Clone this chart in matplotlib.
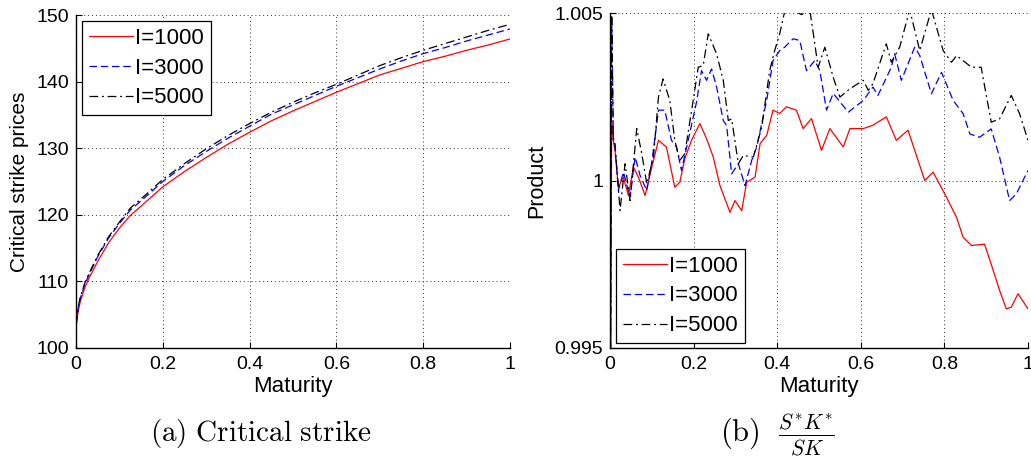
import matplotlib
matplotlib.use("Agg")
import matplotlib.pyplot as plt
from matplotlib.ticker import FixedLocator, FixedFormatter

plt.rcParams['font.family'] = ['Liberation Sans', 'DejaVu Sans']
plt.rcParams['mathtext.fontset'] = 'cm'

# ---------------- data: panel (a) critical strike ----------------
t_a = [0, 0.005, 0.01, 0.02, 0.03, 0.05, 0.075, 0.1, 0.125, 0.15, 0.2, 0.25, 0.3,
       0.35, 0.4, 0.45, 0.5, 0.55, 0.6, 0.65, 0.7, 0.75, 0.8, 0.85, 0.9, 0.95, 1.0]
k_1000 = [103.0, 105.5, 107.0, 109.0, 110.5, 113.0, 115.8, 118.0, 119.9, 121.3, 124.2,
          126.5, 128.6, 130.6, 132.4, 134.1, 135.6, 137.0, 138.4, 139.7, 141.0, 142.0,
          143.0, 143.8, 144.7, 145.5, 146.4]
k_3000 = [103.5, 106.0, 107.5, 109.5, 111.0, 113.7, 116.5, 118.7, 120.7, 122.1, 125.0,
          127.4, 129.5, 131.5, 133.3, 135.1, 136.5, 137.9, 139.3, 140.6, 141.9, 143.1,
          144.2, 145.1, 146.1, 147.0, 147.9]
k_5000 = [103.6, 106.1, 107.7, 109.7, 111.2, 113.9, 116.7, 118.9, 121.0, 122.4, 125.3,
          127.7, 129.9, 131.9, 133.7, 135.4, 136.9, 138.3, 139.6, 141.0, 142.4, 143.6,
          144.7, 145.7, 146.7, 147.7, 148.6]

# ---------------- data: panel (b) product S*K*/SK ----------------
t_r = [0, 0.004, 0.008, 0.012, 0.02, 0.032, 0.044, 0.056, 0.068, 0.084, 0.1, 0.116, 0.135,
       0.155, 0.167, 0.179, 0.195, 0.215, 0.231, 0.247, 0.263, 0.287, 0.299, 0.315, 0.327,
       0.347, 0.359, 0.375, 0.39, 0.406, 0.422, 0.446, 0.462, 0.482, 0.506, 0.526, 0.558,
       0.574, 0.606, 0.629, 0.661, 0.685, 0.713, 0.753, 0.773, 0.805, 0.829, 0.845, 0.865,
       0.896, 0.912, 0.932, 0.948, 0.96, 0.976, 1.0]
p_1000 = [0.990, 1.0018, 1.0012, 1.0009, 0.9998, 1.0001, 0.99955, 1.0004, 1.0001, 0.99955,
          1.0004, 1.0012, 1.0010, 0.9998, 0.99995, 1.00065, 1.0012, 1.0017, 1.00125, 1.0007,
          0.99985, 0.99905, 0.9994, 0.9991, 0.99995, 1.0001, 1.0011, 1.00135, 1.0021, 1.0020,
          1.0022, 1.0021, 1.00155, 1.00185, 1.0009, 1.00155, 1.0010, 1.00155, 1.00155,
          1.00165, 1.0019, 1.0012, 1.0015, 1.0000, 1.00025, 0.9995, 0.9989, 0.9983, 0.99806,
          0.9981, 0.9975, 0.99672, 0.99617, 0.99622, 0.99662, 0.99617]

t_b = [0, 0.004, 0.008, 0.012, 0.02, 0.032, 0.048, 0.06, 0.072, 0.088, 0.1, 0.116, 0.131,
       0.147, 0.159, 0.171, 0.187, 0.207, 0.219, 0.231, 0.243, 0.255, 0.271, 0.279, 0.291,
       0.307, 0.323, 0.339, 0.351, 0.375, 0.39, 0.406, 0.418, 0.438, 0.454, 0.47, 0.49,
       0.502, 0.518, 0.534, 0.57, 0.606, 0.629, 0.641, 0.673, 0.681, 0.697, 0.729, 0.741,
       0.769, 0.793, 0.821, 0.845, 0.861, 0.884, 0.912, 0.932, 0.956, 0.972, 1.0]
p_3000 = [0.990, 1.0046, 1.0013, 1.0010, 0.9997, 1.00025, 0.9995, 1.0007, 1.00015, 0.9997,
          1.00055, 1.0021, 1.0021, 1.0012, 1.0010, 1.0003, 1.0012, 1.00234, 1.00328, 1.00299,
          1.00333, 1.00279, 1.00179, 1.00164, 1.0002, 1.0005, 0.99985, 1.0006, 1.0010, 1.0024,
          1.00358, 1.00388, 1.00398, 1.00423, 1.00418, 1.00328, 1.00358, 1.00328, 1.0021,
          1.0026, 1.00204, 1.00239, 1.00279, 1.00254, 1.00338, 1.00378, 1.00299, 1.00398,
          1.00373, 1.00259, 1.00323, 1.00239, 1.00199, 1.00139, 1.00129, 1.00154, 1.0007,
          0.9994, 0.9996, 1.0003]

t_k = [0, 0.004, 0.008, 0.012, 0.024, 0.036, 0.048, 0.064, 0.076, 0.088, 0.104, 0.116, 0.127,
       0.143, 0.155, 0.167, 0.179, 0.199, 0.211, 0.223, 0.235, 0.255, 0.271, 0.283, 0.291,
       0.307, 0.319, 0.343, 0.363, 0.382, 0.394, 0.406, 0.418, 0.438, 0.458, 0.478, 0.498,
       0.514, 0.534, 0.55, 0.574, 0.606, 0.618, 0.629, 0.661, 0.673, 0.693, 0.717, 0.741,
       0.769, 0.797, 0.817, 0.829, 0.865, 0.888, 0.912, 0.932, 0.96, 0.98, 1.0]
p_5000 = [0.990, 1.0055, 1.0011, 1.0011, 0.9991, 1.0005, 0.9994, 1.00155, 1.0008, 0.9999,
          1.0007, 1.0025, 1.00303, 1.00239, 1.0012, 1.0006, 1.0008, 1.00239, 1.00338, 1.00343,
          1.00438, 1.00378, 1.00299, 1.00179, 1.00184, 1.0005, 1.00075, 1.0007, 1.00159,
          1.00328, 1.00388, 1.00438, 1.00505, 1.0051, 1.00495, 1.0051, 1.00338, 1.00398,
          1.00308, 1.00249, 1.00274, 1.00299, 1.00269, 1.00289, 1.00408, 1.00353, 1.00398,
          1.0051, 1.00388, 1.0051, 1.00388, 1.00353, 1.00373, 1.00338, 1.00338, 1.00174,
          1.00184, 1.00254, 1.00199, 1.0012]

labels = ['I=1000', 'I=3000', 'I=5000']
x_ticks = [0, 0.2, 0.4, 0.6, 0.8, 1]
x_ticklabels = ['0', '0.2', '0.4', '0.6', '0.8', '1']
ya_ticks = [100, 110, 120, 130, 140, 150]
yb_ticks = [0.995, 1.0, 1.005]
yb_ticklabels = ['0.995', '1', '1.005']

fig = plt.figure(figsize=(10.31, 4.59), dpi=100)
W, H = 1031, 459
ax1 = fig.add_axes([76 / W, 1 - 348 / H, 434 / W, 333 / H])
ax2 = fig.add_axes([610 / W, 1 - 348 / H, 418 / W, 335 / H])

lw = 0.9
ax1.plot(t_a, k_1000, color='red', lw=lw, ls='-', label=labels[0])
ax1.plot(t_a, k_3000, color='blue', lw=lw, ls=(0, (6, 3)), label=labels[1])
ax1.plot(t_a, k_5000, color='black', lw=lw, ls=(0, (7, 3, 1.5, 3)), label=labels[2])

ax2.plot(t_r, p_1000, color='red', lw=lw, ls='-', label=labels[0])
ax2.plot(t_b, p_3000, color='blue', lw=lw, ls=(0, (6, 3)), label=labels[1])
ax2.plot(t_k, p_5000, color='black', lw=lw, ls=(0, (7, 3, 1.5, 3)), label=labels[2])

for ax in (ax1, ax2):
    ax.set_xlim(0, 1)
    ax.xaxis.set_major_locator(FixedLocator(x_ticks))
    ax.xaxis.set_major_formatter(FixedFormatter(x_ticklabels))
    ax.spines['top'].set_visible(False)
    ax.spines['right'].set_visible(False)
    for s in ('left', 'bottom'):
        ax.spines[s].set_linewidth(1.0)
    ax.tick_params(direction='in', length=4, width=0.8, labelsize=14, pad=5)
    ax.grid(True, ls=(0, (1, 3)), color='black', lw=0.7, alpha=0.8)
    ax.set_axisbelow(True)
    ax.set_xlabel('Maturity', fontsize=16, labelpad=2)
    ax.tick_params(axis='x', pad=6)

ax1.set_ylim(100, 150)
ax1.yaxis.set_major_locator(FixedLocator(ya_ticks))
ax1.set_ylabel('Critical strike prices', fontsize=15, labelpad=5)

ax2.set_ylim(0.995, 1.005)
ax2.yaxis.set_major_locator(FixedLocator(yb_ticks))
ax2.yaxis.set_major_formatter(FixedFormatter(yb_ticklabels))
ax2.set_ylabel('Product', fontsize=15.5, labelpad=5)

leg_kw = dict(fontsize=16, frameon=True, fancybox=False, edgecolor='black',
              handlelength=2.0, handletextpad=0.1, labelspacing=0.4,
              borderpad=0.3, borderaxespad=0.0)
l1 = ax1.legend(loc='upper left', bbox_to_anchor=(0.014, 0.982), **leg_kw)
l2 = ax2.legend(loc='lower left', bbox_to_anchor=(0.014, 0.015), **leg_kw)
for l in (l1, l2):
    l.get_frame().set_linewidth(0.9)
    l.get_frame().set_alpha(1.0)

fig.text(261 / W, 1 - 433 / H, r'$\mathrm{(a)\ Critical\ strike}$', ha='center', va='center',
         fontsize=21)
fig.text(777 / W, 1 - 435 / H, r'$\mathrm{(b)}\ \ \frac{S^{*}K^{*}}{SK}$', ha='center',
         va='center', fontsize=22)

fig.savefig('out.png', dpi=100)
